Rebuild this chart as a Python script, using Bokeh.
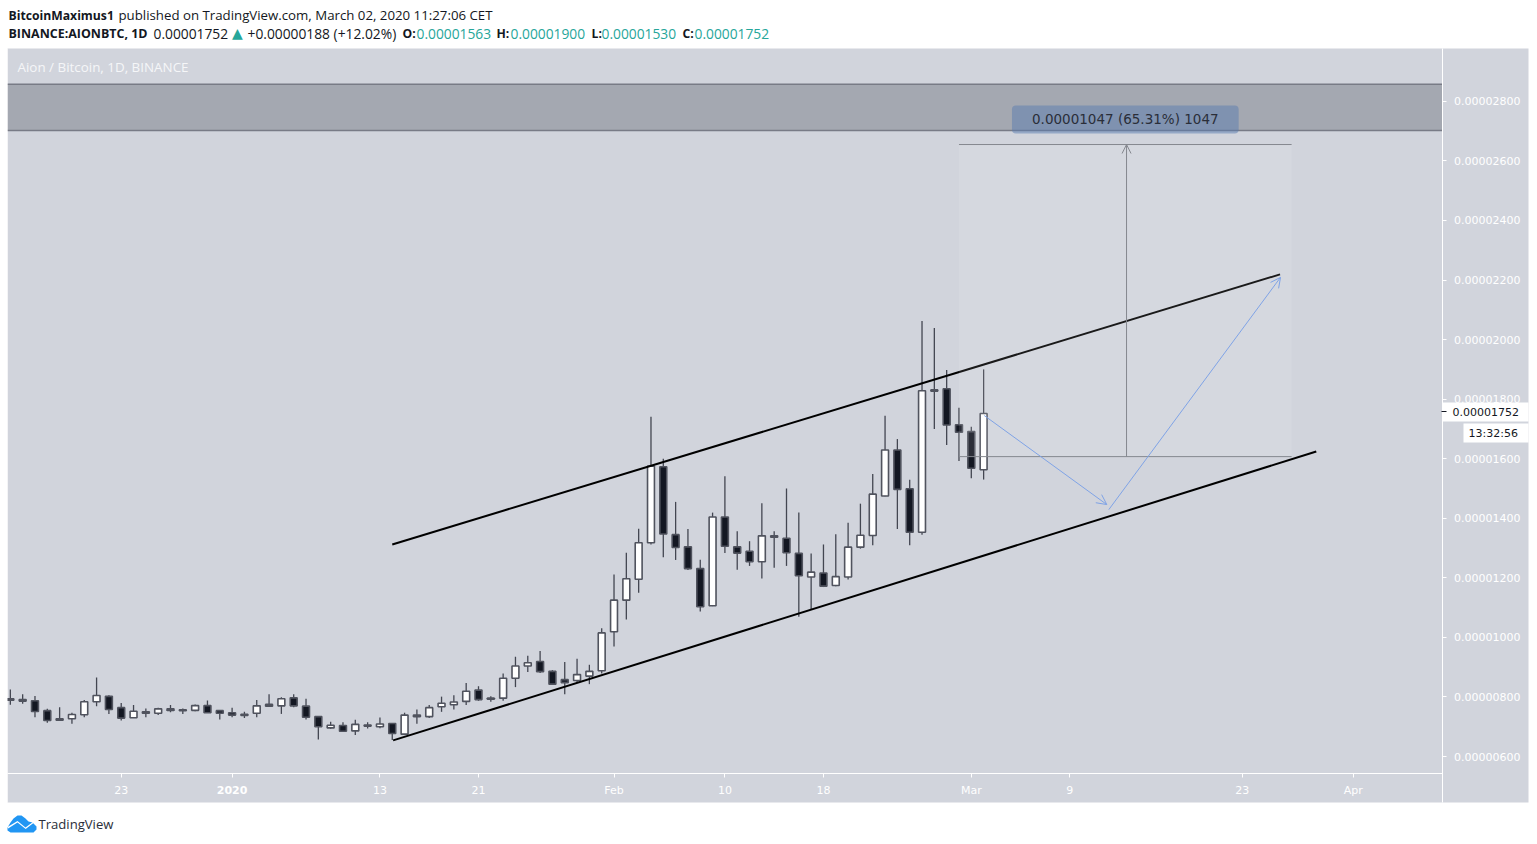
from bokeh.embed import file_html
from bokeh.resources import INLINE
from bokeh.plotting import figure
from bokeh.models import (Range1d, Label, BoxAnnotation, PolyAnnotation, Arrow, OpenHead,
                          FixedTicker, ColumnDataSource, LinearAxis)

# Days counted from 1 Jan 2020; prices in satoshi (1e-8 BTC)
first_day = -18
opens = [794,791,787,754,727,727,740,784,802,764,730,750,745,760,757,755,771,754,747,742,745,775,770,797,769,734,696,704,686,706,700,711,
         675,739,734,767,774,785,823,796,796,863,904,919,886,858,855,870,888,1019,1125,1195,1318,1573,1345,1304,1231,1106,1404,1304,1289,1254,
         1341,1333,1282,1203,1216,1174,1203,1303,1342,1475,1629,1499,1353,1831,1835,1714,1691,1563]
closes = [789,786,751,721,722,741,784,805,758,729,752,745,760,755,754,771,747,745,739,738,770,769,794,770,732,700,705,685,708,702,709,677,
          739,734,764,779,783,819,791,792,863,904,915,885,843,848,875,886,1015,1125,1197,1318,1575,1347,1302,1231,1103,1404,1306,1283,1254,1341,
          1336,1284,1207,1219,1172,1204,1303,1343,1481,1629,1497,1353,1828,1827,1713,1689,1568,1752]
highs = [825,809,803,760,765,747,790,865,806,780,773,761,764,773,761,775,788,756,764,750,790,809,799,809,794,734,717,715,723,715,731,711,
         747,758,773,801,806,847,836,802,879,935,938,954,890,917,928,908,1031,1211,1284,1365,1741,1600,1455,1364,1261,1419,1541,1356,1323,1450,
         1356,1500,1419,1282,1312,1346,1385,1449,1549,1744,1666,1529,2062,2039,1898,1771,1707,1900]
lows = [774,777,732,713,721,710,732,769,743,721,729,732,739,749,743,752,746,724,732,729,732,767,743,765,724,657,693,682,672,694,695,655,
        672,710,729,750,758,773,787,784,787,833,884,880,840,809,848,843,879,969,1060,1150,1312,1269,1260,1226,1087,1105,1283,1227,1240,1198,
        1234,1240,1069,1092,1169,1172,1194,1298,1309,1474,1364,1309,1345,1700,1646,1592,1534,1530]

y_ticks = [600,800,1000,1200,1400,1600,1800,2000,2200,2400,2600,2800]
y_tick_labels = ["0.00000600","0.00000800","0.00001000","0.00001200","0.00001400","0.00001600",
                 "0.00001800","0.00002000","0.00002200","0.00002400","0.00002600","0.00002800"]
x_ticks = [-9,0,12,20,31,40,48,60,68,82,91]
x_tick_labels = ["23","","13","21","Feb","10","18","Mar","9","23","Apr"]

zone_bottom, zone_top = 2702, 2857
box_days = [59, 86]
box_prices = [1607, 2655]
measure_day = 72.6
tag_days = [63.3, 81.7]
tag_prices = [2692, 2786]

upper_days, upper_prices = [13, 85.06], [1312, 2219]
lower_days, lower_prices = [13.07, 88], [654, 1624]
plan_days = [61.05, 71.0, 71.16, 85.1]
plan_prices = [1745, 1446, 1429, 2209]

BG = "#d1d4dc"
WICK = "#434651"
DARK = "#131722"
TEAL = "#26a69a"
TXT = "#131722"
BLUE = "#7fa3e6"

days = [first_day + i for i in range(len(opens))]

# The frame fills the canvas so that header, footer and axis strips can be drawn in it.
W, H = 1530, 836
x_of = lambda px: (px - 231.6) / 12.32
y_of = lambda py: 600 + (756 - py) * 3.358
x_left, x_right = x_of(7), x_of(1441.6)
y_bottom, y_top = y_of(772.6), y_of(48)

p = figure(frame_width=W, frame_height=H, output_backend="svg", toolbar_location=None,
           x_range=Range1d(x_of(0), x_of(W)), y_range=Range1d(y_of(H), y_of(0)),
           x_axis_type=None, y_axis_type=None,
           min_border=0, background_fill_color="white", border_fill_color="white", outline_line_color=None)
p.grid.visible = False

# grey panel including the axis strips
p.quad(left=[x_left], right=[x_of(1528)], bottom=[y_of(802)], top=[y_top], fill_color=BG, line_color=None)


def base_axis(ax):
    ax.minor_tick_line_color = None
    ax.major_label_text_color = "white"
    ax.major_label_text_font = "DejaVu Sans"
    ax.major_label_text_font_size = "11px"
    return ax


x_over = {k: v for k, v in zip(x_ticks, x_tick_labels)}
y_over = {k: v for k, v in zip(y_ticks, y_tick_labels)}
# axes carrying the rule and the ticks, on the frame edge
x_rule = base_axis(LinearAxis(fixed_location=y_bottom, ticker=FixedTicker(ticks=x_ticks), bounds=(x_left, x_right),
                              major_label_overrides={k: "" for k in x_ticks}, major_label_standoff=0))
y_rule = base_axis(LinearAxis(fixed_location=x_right, ticker=FixedTicker(ticks=y_ticks), bounds=(y_of(802), y_top),
                              major_label_overrides={k: "" for k in y_ticks}, major_label_standoff=0))
for ax in (x_rule, y_rule):
    ax.axis_line_color = "white"
    ax.major_tick_line_color = "white"
    ax.major_tick_in = 0
    ax.major_tick_out = 4
# axes carrying the labels, pulled back by a negative standoff so they take no room outside the frame
x_text = base_axis(LinearAxis(fixed_location=y_of(795), ticker=FixedTicker(ticks=x_ticks), bounds=(x_left, x_right),
                              major_label_overrides=x_over, major_label_standoff=-12))
y_text = base_axis(LinearAxis(fixed_location=x_of(1519.5), ticker=FixedTicker(ticks=y_ticks), bounds=(y_of(802), y_top),
                              major_label_overrides=y_over, major_label_standoff=-66))
for ax in (x_text, y_text):
    ax.axis_line_color = None
    ax.major_tick_line_color = None
    ax.major_tick_in = 0
    ax.major_tick_out = 0
p.add_layout(x_rule, "below")
p.add_layout(x_text, "below")
p.add_layout(y_rule, "right")
p.add_layout(y_text, "right")

# resistance zone
p.quad(left=[x_left], right=[x_right], bottom=[zone_bottom], top=[zone_top], fill_color="#787b86", fill_alpha=0.5, line_color=None)
p.segment(x0=[x_left, x_left], x1=[x_right, x_right], y0=[zone_bottom, zone_top], y1=[zone_bottom, zone_top], line_color="#787b86", line_width=1.5)

# candles
src = ColumnDataSource(dict(d=days, o=opens, c=closes, h=highs, l=lows,
                            top=[max(a, b) for a, b in zip(opens, closes)],
                            bot=[min(a, b) for a, b in zip(opens, closes)],
                            col=["white" if c >= o else DARK for o, c in zip(opens, closes)]))
p.segment(x0="d", x1="d", y0="l", y1="h", source=src, line_color=WICK, line_width=1.3)
p.vbar(x="d", width=0.56, top="top", bottom="bot", source=src, fill_color="col", line_color="#50535e", line_width=1.6)
p.quad(left=[x_of(0)], right=[x_left], bottom=[y_of(802)], top=[y_top], fill_color="white", line_color=None)

# trend channel
p.line(upper_days, upper_prices, line_color="black", line_width=2)
p.line(lower_days, lower_prices, line_color="black", line_width=2)

# projected-move box
p.quad(left=[box_days[0]], right=[box_days[1]], bottom=[box_prices[0]], top=[box_prices[1]],
       fill_color="white", fill_alpha=0.1, line_color=None)
p.segment(x0=[box_days[0]] * 2, x1=[box_days[1]] * 2, y0=box_prices, y1=box_prices, line_color="#85888f", line_width=1)
p.add_layout(Arrow(end=OpenHead(size=9, line_color="#85888f", line_width=1), x_start=measure_day, x_end=measure_day,
                   y_start=box_prices[0], y_end=box_prices[1], line_color="#85888f", line_width=1))

# projected path
p.add_layout(Arrow(end=OpenHead(size=10, line_color=BLUE, line_width=1), x_start=plan_days[0], x_end=plan_days[1],
                   y_start=plan_prices[0], y_end=plan_prices[1], line_color=BLUE, line_width=1))
p.add_layout(Arrow(end=OpenHead(size=10, line_color=BLUE, line_width=1), x_start=plan_days[2], x_end=plan_days[3],
                   y_start=plan_prices[2], y_end=plan_prices[3], line_color=BLUE, line_width=1))

# measurement tag
p.add_layout(BoxAnnotation(left=tag_days[0], right=tag_days[1], bottom=tag_prices[0], top=tag_prices[1],
                           fill_color="#5a7bb0", fill_alpha=0.5, line_color=None, border_radius=4))
p.add_layout(Label(x=sum(tag_days) / 2, y=sum(tag_prices) / 2 + 2, text="0.00001047 (65.31%) 1047", text_font="DejaVu Sans",
                   text_font_size="13.5px", text_color="#2a2e39", text_align="center", text_baseline="middle"))


def canvas_box(l, r, t, b, color):
    p.add_layout(BoxAnnotation(left=l, right=r, top=t, bottom=b, left_units="canvas", right_units="canvas",
                               top_units="canvas", bottom_units="canvas", fill_color=color, fill_alpha=1, line_color=None))


def txt(x, y, s, size="13.8px", color=TXT, font="Open Sans", style="normal", align="left"):
    p.add_layout(Label(x=x, y=y, x_units="canvas", y_units="canvas", text=s, text_font=font, text_font_size=size,
                       text_font_style=style, text_color=color, text_align=align, text_baseline="middle"))


# axis tags
canvas_box(1442, 1528, 402, 421, "white")
canvas_box(1463, 1528, 423, 442, "white")
canvas_box(1441, 1446, 410.5, 411.5, TXT)
txt(1452, 411, "0.00001752", "11px", TXT, "DejaVu Sans")
txt(1468, 433, "13:32:56", "11px", TXT, "DejaVu Sans")
txt(231.6, 789.5, "2020", "11px", "white", "DejaVu Sans", "bold", "center")

# header
txt(8, 14.5, "BitcoinMaximus1", "12.2px", style="bold")
txt(118, 14.5, "published on TradingView.com, March 02, 2020 11:27:06 CET", "13.25px")
txt(8, 33, "BINANCE:AIONBTC, 1D", "12.45px", style="bold")
txt(153, 33, "0.00001752")
txt(231.5, 32, "▲", "14px", color=TEAL, font="DejaVu Sans")
txt(247, 33, "+0.00000188 (+12.02%)")
for x0, k, x1, v in [(402, "O:", 416, "0.00001563"), (496, "H:", 510, "0.00001900"),
                     (591, "L:", 601, "0.00001530"), (682, "C:", 694, "0.00001752")]:
    txt(x0, 33, k, "12.2px", style="bold")
    txt(x1, 33, v, color=TEAL)
txt(17, 66.5, "Aion / Bitcoin, 1D, BINANCE", "13.4px", "#f5f6f8")

# footer logo and name
logo_x = [7, 10, 13, 17, 21, 25, 28, 32, 36, 36, 33, 10, 7]
logo_y = [827, 822, 818, 815, 815, 818, 821, 822, 826, 829, 832, 832, 830]
p.add_layout(PolyAnnotation(xs=logo_x, ys=logo_y, xs_units="canvas", ys_units="canvas",
                            fill_color="#2196f3", fill_alpha=1, line_color=None))
zig_x = [7, 17, 25, 33, 33.6, 25.2, 17, 7.6]
zig_y = [826.6, 820.4, 827, 821, 822, 828.6, 822, 828]
p.add_layout(PolyAnnotation(xs=zig_x, ys=zig_y, xs_units="canvas", ys_units="canvas",
                            fill_color="white", fill_alpha=1, line_color=None))
txt(38, 823.5, "TradingView", "13.1px", "#2a2e39")

open("out.html", "w").write(file_html(p, INLINE))
